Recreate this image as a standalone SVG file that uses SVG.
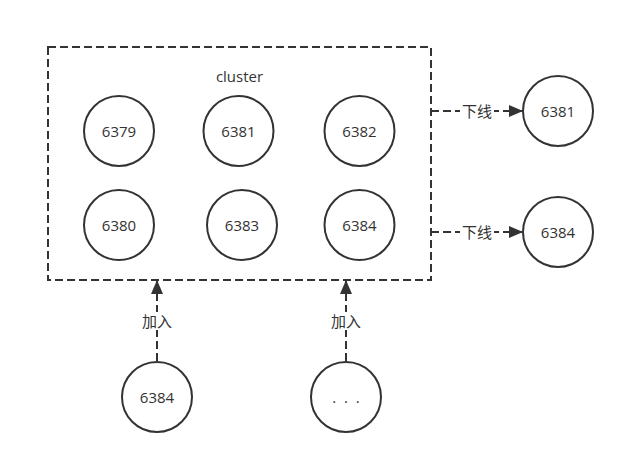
<svg xmlns="http://www.w3.org/2000/svg" width="624" height="464" viewBox="0 0 624 464">
<style>
.n{fill:#fff;stroke:#333;stroke-width:2}
.t{font-family:"Open Sans","Noto Sans CJK SC",sans-serif;font-size:15px;fill:#333;text-anchor:middle;dominant-baseline:central}
.c{fill:none;stroke:#333;stroke-width:2;stroke-dasharray:8 4}
.lb{fill:#fff}
</style>
<defs>
<marker id="a" markerWidth="14" markerHeight="12" refX="13" refY="6" orient="auto" markerUnits="userSpaceOnUse">
<path d="M0,0 L14,6 L0,12 Z" fill="#333"/>
</marker>
</defs>
<rect width="624" height="464" fill="#fff"/>
<g id="cluster">
<rect x="48" y="47" width="383" height="233" class="c"/>
<text x="239.5" y="76" class="t">cluster</text>
</g>
<g id="n6379"><circle cx="119" cy="131" r="35" class="n"/><text x="119" y="131" class="t">6379</text></g>
<g id="n6381"><circle cx="238.5" cy="131" r="35" class="n"/><text x="238.5" y="131" class="t">6381</text></g>
<g id="n6382"><circle cx="359.5" cy="131" r="35" class="n"/><text x="359.5" y="131" class="t">6382</text></g>
<g id="n6380"><circle cx="119" cy="225" r="35" class="n"/><text x="119" y="225" class="t">6380</text></g>
<g id="n6383"><circle cx="242" cy="225" r="35" class="n"/><text x="242" y="225" class="t">6383</text></g>
<g id="n6384"><circle cx="359.5" cy="225" r="35" class="n"/><text x="359.5" y="225" class="t">6384</text></g>
<g id="off6381"><circle cx="558" cy="111" r="35" class="n"/><text x="558" y="111" class="t">6381</text></g>
<g id="off6384"><circle cx="558" cy="232" r="35" class="n"/><text x="558" y="232" class="t">6384</text></g>
<g id="join6384"><circle cx="157" cy="397" r="35" class="n"/><text x="157" y="397" class="t">6384</text></g>
<g id="joinmore"><circle cx="346" cy="397" r="35" class="n"/><text x="347" y="397" class="t" letter-spacing="2">. . .</text></g>
<g id="connectors">
<line x1="431" y1="111" x2="522" y2="111" class="c" marker-end="url(#a)"/>
<rect x="460" y="102" width="34" height="18" class="lb"/>
<text x="477" y="111" class="t">下线</text>
<line x1="431" y1="232" x2="522" y2="232" class="c" marker-end="url(#a)"/>
<rect x="460" y="223" width="34" height="18" class="lb"/>
<text x="477" y="232" class="t">下线</text>
<line x1="157" y1="361" x2="157" y2="281" class="c" marker-end="url(#a)"/>
<rect x="140" y="312" width="34" height="18" class="lb"/>
<text x="157" y="321" class="t">加入</text>
<line x1="346" y1="361" x2="346" y2="281" class="c" marker-end="url(#a)"/>
<rect x="329" y="312" width="34" height="18" class="lb"/>
<text x="346" y="321" class="t">加入</text>
</g>
</svg>
